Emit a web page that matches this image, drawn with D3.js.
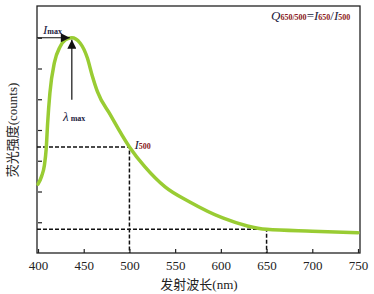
<!DOCTYPE html>
<html>
<head>
<meta charset="utf-8">
<script src="https://cdn.jsdelivr.net/npm/d3@7"></script>
<style>
  body { margin: 0; background: #fff; }
  text { font-family: "Liberation Serif", "Noto Sans CJK SC", serif; }
</style>
</head>
<body>
<div id="chart"></div>
<script>
// emission spectrum
const wavelength = [400, 404, 407, 409, 410.5, 413, 418, 424, 430, 437, 446, 454, 459, 465, 479, 500, 517, 539, 566, 602, 629, 650, 700, 750];
const intensity = [2.24, 2.5, 2.85, 3.4, 4.2, 5.2, 6.2, 6.7, 6.93, 7.0, 6.83, 6.34, 5.8, 5.25, 4.5, 3.45, 2.8, 2.15, 1.66, 1.14, 0.88, 0.77, 0.71, 0.66];
const xTicks = [400, 450, 500, 550, 600, 650, 700, 750];
const yTicks = [1, 2, 3, 4, 5, 6, 7];
const refWavelengths = [500, 650];
const peakWavelength = 437;

const margin = { top: 7, right: 16, bottom: 41, left: 38 },
    width = 374 - margin.left - margin.right,
    height = 294 - margin.top - margin.bottom;

const svg = d3.select("#chart")
    .append("svg")
    .attr("width", 374)
    .attr("height", 294)
    .append("g")
    .attr("transform", `translate(${margin.left},${margin.top})`);

const x = d3.scaleLinear().domain([400, 750]).range([0, width]);
const y = d3.scaleLinear().domain([0, 8]).range([height, 0]);

const data = wavelength.map((w, i) => ({ w, v: intensity[i] }));
const valueAt = w => data.find(d => d.w === w).v;
const peak = data.find(d => d.w === peakWavelength);

svg.append("defs").append("marker")
    .attr("id", "arrow")
    .attr("viewBox", "0 0 10 10")
    .attr("refX", 10).attr("refY", 5)
    .attr("markerWidth", 12).attr("markerHeight", 9)
    .attr("markerUnits", "userSpaceOnUse")
    .attr("orient", "auto")
    .append("path")
    .attr("d", "M0,0L10,5L0,10Z")
    .attr("fill", "#111");

// frame
svg.append("rect")
    .attr("x", -1).attr("y", -1)
    .attr("width", width + 3).attr("height", height + 1)
    .attr("fill", "none")
    .attr("stroke", "#222")
    .attr("stroke-width", 1.3);

const xAxis = svg.append("g")
    .attr("transform", `translate(0,${height})`)
    .call(d3.axisBottom(x).tickValues(xTicks).tickSizeInner(-4).tickSizeOuter(0).tickPadding(8));
xAxis.select(".domain").remove();
xAxis.selectAll("line").attr("stroke", "#222").attr("stroke-width", 1.2);
xAxis.selectAll("text").style("font-size", "13px").attr("fill", "#222");

const yAxis = svg.append("g")
    .call(d3.axisLeft(y).tickValues(yTicks).tickSizeInner(-4).tickSizeOuter(0).tickFormat(""));
yAxis.select(".domain").remove();
yAxis.selectAll("line").attr("stroke", "#222").attr("stroke-width", 1.2);

// reference dashed lines
refWavelengths.forEach(w => {
    const v = valueAt(w);
    svg.append("path")
        .attr("d", `M${x(400) - 1},${y(v)}H${x(w)}V${height}`)
        .attr("fill", "none")
        .attr("stroke", "#111")
        .attr("stroke-width", 1.5)
        .attr("stroke-dasharray", "4,2");
});

svg.append("path")
    .datum(data)
    .attr("fill", "none")
    .attr("stroke", "#99cc33")
    .attr("stroke-width", 3.5)
    .attr("stroke-linecap", "round")
    .attr("d", d3.line().x(d => x(d.w)).y(d => y(d.v)).curve(d3.curveMonotoneX));

// Imax arrow
svg.append("line")
    .attr("x1", x(400) - 1).attr("y1", y(peak.v))
    .attr("x2", x(peak.w) - 2).attr("y2", y(peak.v))
    .attr("stroke", "#111").attr("stroke-width", 1.2)
    .attr("marker-end", "url(#arrow)");

// lambda max arrow
svg.append("line")
    .attr("x1", x(peak.w)).attr("y1", y(peak.v) + 62)
    .attr("x2", x(peak.w)).attr("y2", y(peak.v) + 2)
    .attr("stroke", "#111").attr("stroke-width", 1.2)
    .attr("marker-end", "url(#arrow)");

const ink = "#1a1a40", subInk = "#8b1a1a";

function label(px, py, parts) {
    const t = svg.append("text").attr("x", px).attr("y", py);
    parts.forEach(p => {
        t.append("tspan")
            .text(p.t)
            .style("font-size", p.sub ? "8px" : "13px")
            .style("font-style", p.it ? "italic" : "normal")
            .style("font-weight", p.sub ? "bold" : "normal")
            .attr("fill", p.c || ink);
    });
    return t;
}

label(5, 27, [{ t: "I", it: true }, { t: "max", sub: true, c: ink }]);
label(25, 114, [{ t: "λ", it: true }, { t: " max", sub: true, c: ink }]);
label(x(500) + 5, 142, [{ t: "I", it: true }, { t: "500", sub: true, c: subInk }]);
label(233, 13, [
    { t: "Q", it: true }, { t: "650/500", sub: true, c: subInk },
    { t: "=" }, { t: "I", it: true }, { t: "650", sub: true, c: subInk },
    { t: "/" }, { t: "I", it: true }, { t: "500", sub: true, c: subInk }
]);

svg.append("text")
    .attr("x", width / 2 + 1)
    .attr("y", height + 36)
    .attr("text-anchor", "middle")
    .style("font-size", "13px")
    .attr("fill", "#222")
    .text("发射波长(nm)");

svg.append("text")
    .attr("transform", `translate(${-margin.left + 17},${height / 2}) rotate(-90)`)
    .attr("text-anchor", "middle")
    .style("font-size", "13px")
    .attr("fill", "#222")
    .text("荧光强度(counts)");
</script>
</body>
</html>
